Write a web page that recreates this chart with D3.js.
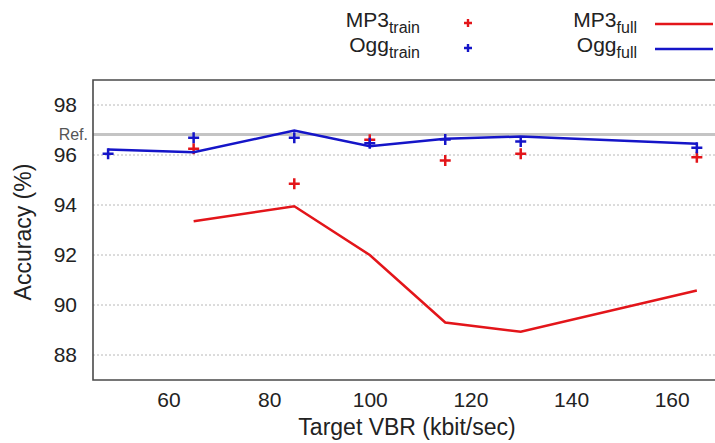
<!DOCTYPE html>
<html>
<head>
<meta charset="utf-8">
<script src="https://cdn.jsdelivr.net/npm/d3@7"></script>
<style>
  body { margin: 0; background: #fff; }
  svg { display: block; font-family: "Liberation Sans", Arial, sans-serif; }
  .tick text { fill: #222; }
</style>
</head>
<body>
<svg id="chart" width="715" height="443"></svg>
<script>
// target VBR settings (kbit/sec)
const bitrates = [48, 65, 85, 100, 115, 130, 165];
const mp3Full  = [null, 93.35, 93.95, 92.0, 89.3, 88.93, 90.58];
const oggFull  = [96.22, 96.11, 96.98, 96.35, 96.65, 96.74, 96.45];
const mp3Train = [null, 96.25, 94.85, 96.61, 95.78, 96.05, 95.91];
const oggTrain = [96.05, 96.69, 96.69, 96.47, 96.62, 96.54, 96.29];
const refValue = 96.82;
const xTicks = [60, 80, 100, 120, 140, 160];
const yTicks = [88, 90, 92, 94, 96, 98];

const red = "#e3151a";
const blue = "#1515c8";

function drawChart() {
    const margin = {top: 80, right: -7, bottom: 63, left: 93};
    const W = 715, H = 443;
    const width = W - margin.left - margin.right;
    const height = H - margin.top - margin.bottom;

    const svg = d3.select("#chart");
    const g = svg.append("g")
        .attr("transform", `translate(${margin.left},${margin.top})`);

    const x = d3.scaleLinear().domain([45, 170]).range([0, width]);
    const y = d3.scaleLinear().domain([87, 99]).range([height, 0]);

    // dotted grid
    g.selectAll(".grid")
        .data(yTicks)
        .join("line")
        .attr("class", "grid")
        .attr("x1", 0).attr("x2", width)
        .attr("y1", d => y(d)).attr("y2", d => y(d))
        .attr("stroke", "#b8b8b8")
        .attr("stroke-width", 1)
        .attr("stroke-dasharray", "2,2");

    // reference line
    g.append("line")
        .attr("x1", 0).attr("x2", width)
        .attr("y1", y(refValue)).attr("y2", y(refValue))
        .attr("stroke", "#c4c4c4")
        .attr("stroke-width", 3);

    g.append("text")
        .attr("x", -5)
        .attr("y", y(refValue) + 5)
        .attr("text-anchor", "end")
        .style("font-size", "16px")
        .attr("fill", "#555")
        .text("Ref.");

    // frame (left, bottom, top)
    g.append("path")
        .attr("d", `M${width},0H0V${height}H${width}`)
        .attr("fill", "none")
        .attr("stroke", "#4a4a4a")
        .attr("stroke-width", 1.6);

    // axes
    const xAxis = g.append("g")
        .attr("transform", `translate(0,${height})`)
        .call(d3.axisBottom(x).tickValues(xTicks).tickSize(0).tickPadding(12));
    xAxis.select(".domain").remove();
    xAxis.selectAll("text").style("font-size", "21px");

    const yAxis = g.append("g")
        .call(d3.axisLeft(y).tickValues(yTicks).tickSize(0).tickPadding(16));
    yAxis.select(".domain").remove();
    yAxis.selectAll("text").style("font-size", "21px");

    svg.append("text")
        .attr("x", 407)
        .attr("y", 435)
        .attr("text-anchor", "middle")
        .style("font-size", "23px")
        .attr("fill", "#222")
        .text("Target VBR (kbit/sec)");

    svg.append("text")
        .attr("transform", `translate(31,${margin.top + height / 2 + 2}) rotate(-90)`)
        .attr("text-anchor", "middle")
        .style("font-size", "23px")
        .attr("fill", "#222")
        .text("Accuracy (%)");

    // lines
    const line = d3.line()
        .defined(d => d[1] != null)
        .x(d => x(d[0]))
        .y(d => y(d[1]));

    g.append("path")
        .datum(bitrates.map((b, i) => [b, mp3Full[i]]))
        .attr("d", line)
        .attr("fill", "none")
        .attr("stroke", red)
        .attr("stroke-width", 2.5);

    // plus markers
    function crosses(vals, color) {
        g.append("g")
            .selectAll("path")
            .data(bitrates.map((b, i) => [b, vals[i]]).filter(d => d[1] != null))
            .join("path")
            .attr("transform", d => `translate(${x(d[0])},${y(d[1])})`)
            .attr("d", "M-5.5,0H5.5M0,-5.5V5.5")
            .attr("stroke", color)
            .attr("stroke-width", 2.5);
    }
    crosses(mp3Train, red);

    g.append("path")
        .datum(bitrates.map((b, i) => [b, oggFull[i]]))
        .attr("d", line)
        .attr("fill", "none")
        .attr("stroke", blue)
        .attr("stroke-width", 2.5);

    crosses(oggTrain, blue);

    // legend
    const legend = svg.append("g");
    const items = [
        {name: "MP3", sub: "train", color: red, kind: "plus", tx: 420, mx: 468, y: 27},
        {name: "Ogg", sub: "train", color: blue, kind: "plus", tx: 420, mx: 468, y: 52},
        {name: "MP3", sub: "full", color: red, kind: "line", tx: 637, mx: 655, y: 27},
        {name: "Ogg", sub: "full", color: blue, kind: "line", tx: 637, mx: 655, y: 52}
    ];
    items.forEach(it => {
        const t = legend.append("text")
            .attr("x", it.tx)
            .attr("y", it.y)
            .attr("text-anchor", "end")
            .attr("fill", "#222")
            .style("font-size", "21px");
        t.append("tspan").text(it.name);
        t.append("tspan")
            .attr("dy", 6)
            .style("font-size", "16px")
            .text(it.sub);
        if (it.kind === "plus") {
            legend.append("path")
                .attr("transform", `translate(${it.mx},${it.y - 4})`)
                .attr("d", "M-4,0H4M0,-4V4")
                .attr("stroke", it.color)
                .attr("stroke-width", 2.4);
        } else {
            legend.append("line")
                .attr("x1", it.mx).attr("x2", it.mx + 58)
                .attr("y1", it.y - 3).attr("y2", it.y - 3)
                .attr("stroke", it.color)
                .attr("stroke-width", 2.5);
        }
    });
}

document.addEventListener('DOMContentLoaded', drawChart);
</script>
</body>
</html>
